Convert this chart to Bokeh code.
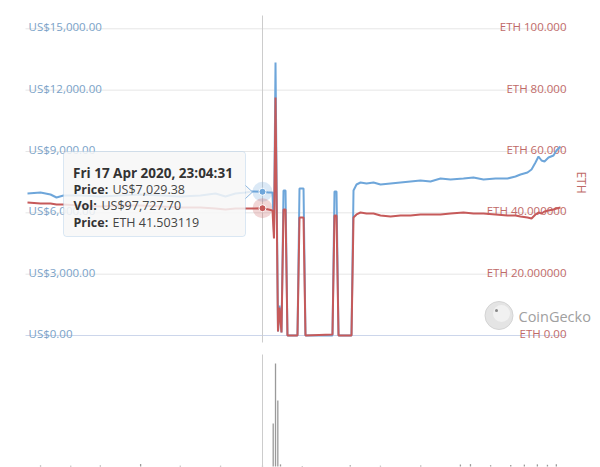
import math
import pandas as pd
from bokeh.plotting import figure
from bokeh.models import Range1d, ColumnDataSource, BoxAnnotation
from bokeh.core.properties import value
from bokeh.embed import file_html
from bokeh.resources import INLINE

# ---------------- data ----------------
hover_time = pd.Timestamp("2020-04-17 23:04:31")
hover_day = 39.68          # days after series start
hover_usd = 7029.38
hover_vol = 97727.70
hover_eth = 41.503119

day = [0.00, 2.20, 3.89, 4.90, 6.08, 8.95, 12.33, 15.70, 19.08, 22.46, 25.84, 29.21,
       31.75, 33.43, 35.12, 36.81, 37.99, 39.68, 40.70, 41.37, 41.62, 41.88, 42.30,
       42.55, 42.89, 43.23, 43.57, 43.90, 45.59, 45.93, 46.61, 46.94, 51.50, 51.84,
       52.18, 52.52, 54.71, 55.05, 55.56, 56.23, 57.25, 58.43, 59.61, 61.30, 62.99,
       64.67, 66.36, 68.05, 69.74, 71.43, 73.62, 75.31, 77.00, 79.03, 81.05, 82.40,
       83.25, 84.43, 85.11, 85.78, 86.29, 86.80, 87.30, 87.98, 88.82, 89.33, 90.00]
usd = [6945, 6994, 6896, 6750, 6847, 6847, 6798, 6847, 6896, 6847, 6798, 6847,
       6945, 6798, 6945, 6994, 7043, 7029.38, 6994, 6994, 5038, 13352, 196,
       1467, 147, 7092, 7092, 0, 0, 7190, 7190, 0, 0, 7043,
       7043, 0, 0, 7092, 7385, 7483, 7434, 7483, 7385, 7434, 7483,
       7532, 7581, 7532, 7679, 7630, 7679, 7728, 7630, 7679, 7679, 7777,
       7875, 7972, 8119, 8461, 8755, 8559, 8510, 8706, 8804, 9048, 9244]
eth = [43.37, 43.05, 43.05, 42.72, 42.72, 42.39, 42.07, 42.39, 42.39, 42.07, 41.74, 41.74,
       41.41, 41.09, 41.41, 41.41, 41.41, 41.503119, 41.09, 40.76, 31.63, 77.61, 1.30,
       9.13, 0.98, 41.09, 41.09, 0, 0, 38.48, 38.48, 0, 0.33, 39.13,
       39.13, 0, 0, 38.48, 39.46, 40.11, 39.78, 39.78, 39.13, 38.81, 39.13,
       39.13, 39.46, 39.46, 39.46, 39.78, 40.11, 39.78, 39.78, 39.46, 39.13, 39.13,
       38.81, 38.48, 38.15, 39.46, 40.11, 39.78, 40.44, 40.76, 41.09, 41.41, 41.74]

vol_day = [2.2, 7.3, 12.3, 19.1, 25.8, 32.6, 39.68, 41.49, 41.88, 42.27, 42.72, 46.4,
           54.5, 59.6, 66.4, 73.1, 74.8, 78.2, 81.6, 83.9, 86.1, 87.8, 89.3]
vol = [120000, 90000, 110000, 300000, 80000, 100000, 97727.70, 5010000, 12000000,
       7690000, 250000, 60000, 150000, 90000, 110000, 230000, 280000, 150000, 180000,
       220000, 250000, 200000, 260000]

usd_ticks = [0, 3000, 6000, 9000, 12000, 15000]
usd_labels = ["US$0.00", "US$3,000.00", "US$6,000.00", "US$9,000.00",
              "US$12,000.00", "US$15,000.00"]
eth_ticks = [0, 20, 40, 60, 80, 100]
eth_labels = ["ETH 0.00", "ETH 20.000000", "ETH 40.000000", "ETH 60.000",
              "ETH 80.000", "ETH 100.000"]

# ---------------- geometry / style ----------------
start = hover_time - pd.Timedelta(days=hover_day)
OFF = 0
W, H = 600, 467
X0_REF, PX_PER_DAY = 27, 5.922
Y0_REF = 335
PX_PER_USD = 306.7 / 15000
PX_PER_ETH = 306.7 / 100
VOL_BASE_REF, PX_PER_VOL = 466, 103 / 12e6

def to_ms(d):
    return (start + pd.Timedelta(days=d)).value / 1e6

def xd(rx):
    return to_ms((rx - X0_REF) / PX_PER_DAY)

def yu(ry):
    return (Y0_REF - ry) / PX_PER_USD

def ye(ry):
    return (Y0_REF - ry) / PX_PER_ETH

def yv(ry):
    return (VOL_BASE_REF - ry) / PX_PER_VOL

FONT = value("Open Sans")
BLUE = "#6ea6da"
RED = "#c65a5a"
BLUE_TXT = "#7aa2c8"
RED_TXT = "#bf6a68"

p = figure(width=W, height=H, output_backend="svg", toolbar_location=None,
           x_range=Range1d(xd(OFF), xd(OFF + W)),
           y_range=Range1d(yu(OFF + H), yu(OFF)),
           x_axis_location=None, y_axis_location=None, min_border=0)
p.extra_y_ranges = {"eth": Range1d(ye(OFF + H), ye(OFF)),
                    "vol": Range1d(yv(OFF + H), yv(OFF))}
for g in p.grid:
    g.visible = False
p.outline_line_color = None
p.background_fill_color = "white"
p.border_fill_color = "white"

# grid lines
grid_colors = ["#ccd6eb"] + ["#e6e6e6"] * (len(usd_ticks) - 1)
p.segment(x0=xd(25), y0=usd_ticks, x1=xd(566), y1=usd_ticks,
          line_color=grid_colors, line_width=1)

# axis labels (inside plot)
p.text(x=xd(28), y=usd_ticks, text=usd_labels, text_font=FONT,
       text_font_size="11.5px", text_color=BLUE_TXT, text_align="left",
       text_baseline="alphabetic", y_offset=-2)
p.text(x=xd(566), y=eth_ticks, text=eth_labels, y_range_name="eth",
       text_font=FONT, text_font_size="11.5px", text_color=RED_TXT,
       text_align="right", text_baseline="alphabetic", y_offset=-2)
p.text(x=xd(581), y=yu(182), text=["ETH"], angle=-math.pi / 2,
       text_font=FONT, text_font_size="12px", text_color=RED_TXT,
       text_align="center", text_baseline="middle")

# CoinGecko mark
p.scatter(x=[xd(498.5)], y=[yu(315)], size=28, fill_color="#e4e4e4",
          line_color="#d4d4d4")
p.scatter(x=[xd(501)], y=[yu(313)], size=17, fill_color="#f1f1f1", line_color=None)
p.scatter(x=[xd(496)], y=[yu(310)], size=3, fill_color="#888888", line_color=None)
p.text(x=xd(518), y=yu(315.5), text=["CoinGecko"], text_font=FONT,
       text_font_size="14.5px", text_color="#a0a0a0", text_align="left",
       text_baseline="middle")

# volume bars
p.vbar(x=[to_ms(d) for d in vol_day], top=vol, bottom=0, width=0.22 * 86400000,
       y_range_name="vol", fill_color="#9a9a9a", line_color=None)

# crosshair
hx = to_ms(hover_day)
p.segment(x0=[hx, hx], y0=[yu(15), yu(354)], x1=[hx, hx], y1=[yu(342), yu(OFF + H)],
          line_color="#cccccc", line_width=1)

# price lines
src = ColumnDataSource(dict(x=[to_ms(d) for d in day], usd=usd, eth=eth))
p.line("x", "usd", source=src, line_color=BLUE, line_width=2)
p.line("x", "eth", source=src, y_range_name="eth", line_color=RED, line_width=2)

# hover markers
p.scatter(x=[hx], y=[hover_usd], size=20, fill_color=BLUE, fill_alpha=0.25, line_color=None)
p.scatter(x=[hx], y=[hover_usd], size=7, fill_color=BLUE, line_color="white", line_width=1)
p.scatter(x=[hx], y=[hover_eth], y_range_name="eth", size=20, fill_color=RED,
          fill_alpha=0.25, line_color=None)
p.scatter(x=[hx], y=[hover_eth], y_range_name="eth", size=7, fill_color=RED,
          line_color="white", line_width=1)

# tooltip
BORDER = "#8fb8e0"
box = BoxAnnotation(left=xd(63), right=xd(245), top=yu(151), bottom=yu(236),
                    fill_color="#f7f7f7", fill_alpha=0.85, line_color=BORDER,
                    line_width=1, border_radius=3, level="annotation")
p.add_layout(box)
px = [xd(245), xd(252), xd(245)]
py = [yu(185), yu(191.5), yu(198)]
p.patch(x=px, y=py, fill_color="#f7f7f7", fill_alpha=0.85, line_color=None, level="overlay")
p.line(x=px, y=py, line_color=BORDER, line_width=1, level="overlay")

header = hover_time.strftime("%a %d %b %Y, %H:%M:%S")
p.text(x=xd(72.5), y=yu(172), text=[header], text_font=FONT, text_font_size="13.5px",
       text_font_style="bold", text_color="#333333", text_baseline="alphabetic",
       level="overlay")
row_y = [yu(188.5), yu(205), yu(221.5)]
p.text(x=[xd(73)] * 3, y=row_y, text=["Price:", "Vol:", "Price:"], text_font=FONT,
       text_font_size="12.5px", text_font_style="bold", text_color="#333333",
       text_baseline="alphabetic", level="overlay")
p.text(x=[xd(112), xd(101), xd(112)], y=row_y,
       text=[f"US${hover_usd:,.2f}", f"US${hover_vol:,.2f}", f"ETH {hover_eth:.6f}"],
       text_font=FONT, text_font_size="12.5px", text_color="#444444",
       text_baseline="alphabetic", level="overlay")

open("out.html", "w").write(file_html(p, INLINE))
